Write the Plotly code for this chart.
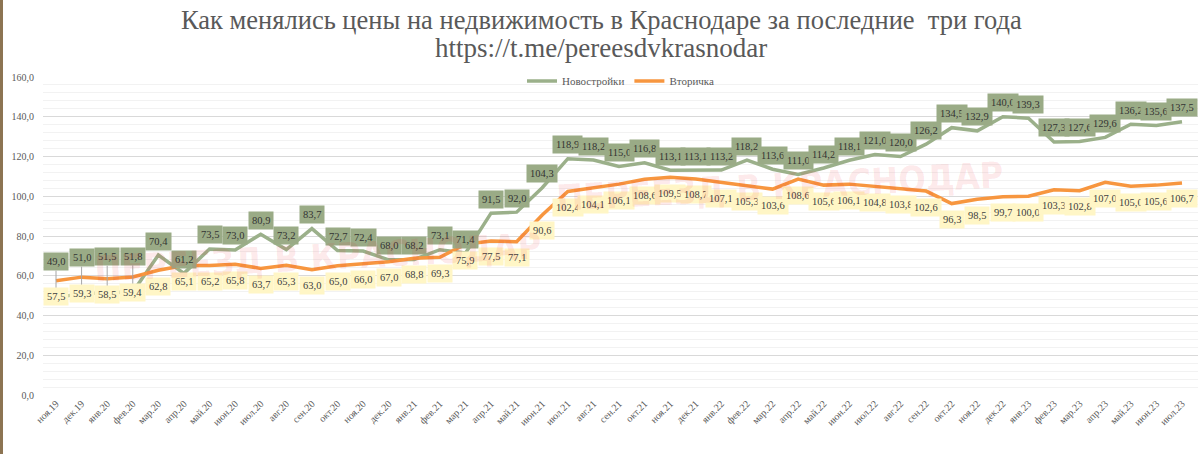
import plotly.graph_objects as go

months = ["ноя.19", "дек.19", "янв.20", "фев.20", "мар.20", "апр.20", "май.20", "июн.20",
          "июл.20", "авг.20", "сен.20", "окт.20", "ноя.20", "дек.20", "янв.21", "фев.21",
          "мар.21", "апр.21", "май.21", "июн.21", "июл.21", "авг.21", "сен.21", "окт.21",
          "ноя.21", "дек.21", "янв.22", "фев.22", "мар.22", "апр.22", "май.22", "июн.22",
          "июл.22", "авг.22", "сен.22", "окт.22", "ноя.22", "дек.22", "янв.23", "фев.23",
          "мар.23", "апр.23", "май.23", "июн.23", "июл.23"]

novostroyki = [49.0, 51.0, 51.5, 51.8, 70.4, 61.2, 73.5, 73.0, 80.9, 73.2, 83.7, 72.7,
               72.4, 68.0, 68.2, 73.1, 71.4, 91.5, 92.0, 104.3, 118.9, 118.2, 115.0, 116.8,
               113.1, 113.1, 113.2, 118.2, 113.6, 111.0, 114.2, 118.1, 121.0, 120.0, 126.2,
               134.5, 132.9, 140.0, 139.3, 127.3, 127.6, 129.6, 136.2, 135.6, 137.5]

vtorichka = [57.5, 59.3, 58.5, 59.4, 62.8, 65.1, 65.2, 65.8, 63.7, 65.3, 63.0, 65.0,
             66.0, 67.0, 68.8, 69.3, 75.9, 77.5, 77.1, 90.6, 102.4, 104.1, 106.1, 108.6,
             109.5, 108.7, 107.1, 105.3, 103.6, 108.6, 105.6, 106.1, 104.8, 103.8, 102.6,
             96.3, 98.5, 99.7, 100.0, 103.3, 102.8, 107.0, 105.0, 105.6, 106.7]

title_line1 = "Как менялись цены на недвижимость в Краснодаре за последние  три года"
title_line2 = "https://t.me/pereesdvkrasnodar"
watermark = "ПЕРЕЕЗД В КРАСНОДАР"

GREEN = "#9bb08a"
ORANGE = "#f7963f"
GREEN_BG = "#9aab86"
YELLOW_BG = "#fff6c6"
TXT = "#595959"
SERIF = "Liberation Serif"

W, H = 1200, 454
ML, MR, MT, MB = 43, 2, 77, 59
pw = W - ML - MR
ph = H - MT - MB


def fmt(v):
    return f"{v:.1f}".replace(".", ",")


def px_x(p):
    return (p - ML) / pw


def px_y(p):
    return 1 - (p - MT) / ph


fig = go.Figure()
fig.add_trace(go.Scatter(x=months, y=novostroyki, name="Новостройки", mode="lines",
                         line=dict(color=GREEN, width=3.5)))
fig.add_trace(go.Scatter(x=months, y=vtorichka, name="Вторичка", mode="lines",
                         line=dict(color=ORANGE, width=3.5)))

annotations = []

lab_font_g = dict(family=SERIF, size=10.5, color="#333333")
lab_font_o = dict(family=SERIF, size=10.5, color="#404040")

for i, (m, v) in enumerate(zip(months, novostroyki)):
    if i < 4:
        annotations.append(dict(x=m, y=v, text=fmt(v), showarrow=True, arrowhead=0,
                                arrowwidth=1, arrowcolor="#a6a6a6", ax=0, ay=-36,
                                bgcolor=GREEN_BG, borderpad=3, font=lab_font_g))
    else:
        annotations.append(dict(x=m, y=v, text=fmt(v), showarrow=False, yshift=14,
                                bgcolor=GREEN_BG, borderpad=3, font=lab_font_g))

for m, v in zip(months, vtorichka):
    annotations.append(dict(x=m, y=v, text=fmt(v), showarrow=False, yshift=-16,
                            bgcolor=YELLOW_BG, borderpad=3, font=lab_font_o))

annotations.append(dict(xref="paper", yref="paper", x=px_x(601), y=px_y(20),
                        xanchor="center", yanchor="middle", text=title_line1, showarrow=False,
                        font=dict(family=SERIF, size=26.5, color=TXT)))
annotations.append(dict(xref="paper", yref="paper", x=px_x(601), y=px_y(48),
                        xanchor="center", yanchor="middle", text=title_line2, showarrow=False,
                        font=dict(family=SERIF, size=27, color=TXT)))

# semi-transparent watermarks drawn over the chart
wm_font = dict(family="DejaVu Sans Condensed", size=36, color="rgba(235,40,50,0.10)", weight="bold")
annotations.append(dict(xref="paper", yref="paper", x=px_x(318), y=px_y(257),
                        xanchor="center", yanchor="middle",
                        text=watermark, showarrow=False, textangle=-3, font=wm_font))
annotations.append(dict(xref="paper", yref="paper", x=px_x(780), y=px_y(186),
                        xanchor="center", yanchor="middle",
                        text=watermark, showarrow=False, textangle=-3, font=wm_font))

fig.update_layout(
    width=W, height=H,
    margin=dict(l=ML, r=MR, t=MT, b=MB),
    paper_bgcolor="white", plot_bgcolor="white",
    separators=", ",
    showlegend=True,
    legend=dict(orientation="h", x=0.5, xanchor="center", y=px_y(81), yanchor="middle",
                font=dict(family=SERIF, size=11, color=TXT), bgcolor="rgba(0,0,0,0)",
                itemwidth=30),
    annotations=annotations,
    shapes=[dict(type="line", xref="paper", yref="paper",
                 x0=px_x(1.5), x1=px_x(1.5), y0=px_y(H), y1=px_y(0),
                 line=dict(color="#8c7452", width=3))],
)
fig.update_xaxes(type="category", tickangle=-45, showgrid=False, showline=False,
                 tickfont=dict(family=SERIF, size=10, color=TXT), ticks="")
fig.update_yaxes(range=[0, 160], dtick=20, tickformat=".1f", showgrid=True,
                 gridcolor="#d9d9d9", gridwidth=1, zeroline=False,
                 minor=dict(dtick=4, showgrid=True, gridcolor="#f2f2f2", gridwidth=1),
                 tickfont=dict(family=SERIF, size=10, color=TXT), ticks="", ticklabelstandoff=8)

fig.write_html("out.html")
